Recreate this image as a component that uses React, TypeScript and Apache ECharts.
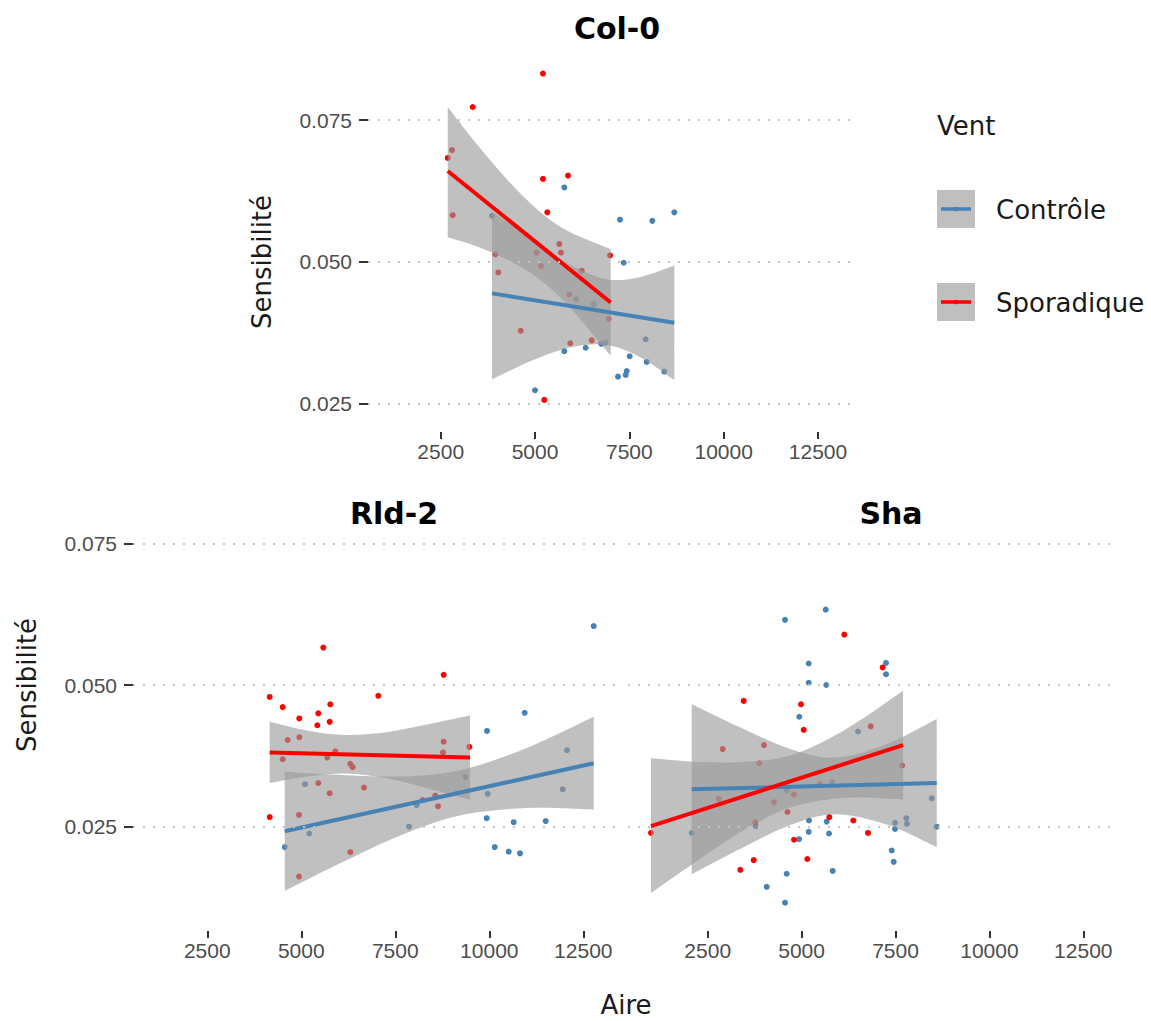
import React, { useEffect, useRef } from "react";
import * as echarts from "echarts";

// ---------- data ----------
const xTicks = [2500, 5000, 7500, 10000, 12500];
const yTicks = [0.025, 0.05, 0.075];
const groupNames = ["Contrôle", "Sporadique"];
const panelTitles = ["Col-0", "Rld-2", "Sha"];

// Col-0
const col0CtrlX = [5776, 3860, 6086, 5776, 5000, 7252, 8108, 8691, 7350, 6555, 6343, 6757, 6863, 7933, 7509, 7960, 8426, 7430, 7403, 7199];
const col0CtrlY = [0.0631, 0.0581, 0.0434, 0.0342, 0.0273, 0.0574, 0.0572, 0.0587, 0.0498, 0.0425, 0.0348, 0.0355, 0.0357, 0.0363, 0.0333, 0.0323, 0.0306, 0.0307, 0.0300, 0.0297];
const col0SporX = [5211, 3348, 2800, 2686, 2818, 5211, 5874, 5325, 5644, 5688, 5044, 5158, 3947, 4027, 4620, 5935, 5908, 5246, 6987, 6237, 6953, 6502];
const col0SporY = [0.0832, 0.0773, 0.0697, 0.0683, 0.0582, 0.0646, 0.0652, 0.0587, 0.0531, 0.0516, 0.0516, 0.0492, 0.0513, 0.0481, 0.0378, 0.0356, 0.0442, 0.0256, 0.0511, 0.0484, 0.0399, 0.0361];

// Rld-2
const rldCtrlX = [5098, 5213, 4559, 12777, 10941, 9939, 12066, 9362, 9957, 11952, 8069, 7864, 9931, 10649, 11500, 10144, 10516, 10816];
const rldCtrlY = [0.0325, 0.0238, 0.0214, 0.0604, 0.0451, 0.0419, 0.0385, 0.0338, 0.0308, 0.0316, 0.0288, 0.0250, 0.0265, 0.0258, 0.0260, 0.0214, 0.0206, 0.0203];
const rldSporX = [5585, 4160, 7048, 4505, 5771, 4947, 5452, 5426, 5755, 4638, 4947, 5904, 4505, 5691, 6303, 6367, 5452, 6668, 5755, 4939, 4160, 6303, 4939, 8787, 8787, 8769, 9468, 8564, 8636, 8229];
const rldSporY = [0.0566, 0.0479, 0.0481, 0.0461, 0.0466, 0.0441, 0.0450, 0.0429, 0.0435, 0.0403, 0.0408, 0.0383, 0.0369, 0.0372, 0.0361, 0.0355, 0.0327, 0.0319, 0.0309, 0.0271, 0.0267, 0.0205, 0.0162, 0.0518, 0.0400, 0.0381, 0.0391, 0.0305, 0.0286, 0.0297];

// Sha
const shaCtrlX = [5642, 4558, 5189, 5189, 5658, 4938, 6502, 5817, 4603, 5197, 5668, 3778, 2074, 5189, 5730, 4931, 4603, 5828, 4071, 4558, 7247, 7247, 8464, 7788, 7806, 7487, 7487, 8597, 7399, 7452];
const shaCtrlY = [0.0633, 0.0615, 0.0538, 0.0504, 0.0500, 0.0444, 0.0418, 0.0329, 0.0314, 0.0261, 0.0259, 0.0251, 0.0239, 0.0241, 0.0238, 0.0228, 0.0167, 0.0172, 0.0144, 0.0116, 0.0539, 0.0519, 0.0300, 0.0265, 0.0255, 0.0257, 0.0246, 0.0250, 0.0208, 0.0188];
const shaSporX = [6137, 3458, 4984, 5056, 6840, 2899, 3999, 3874, 2793, 4265, 4798, 5490, 4624, 3767, 5738, 6377, 6768, 990, 4798, 5152, 3725, 3368, 7159, 7681];
const shaSporY = [0.0589, 0.0472, 0.0466, 0.0421, 0.0427, 0.0387, 0.0394, 0.0362, 0.0299, 0.0293, 0.0307, 0.0325, 0.0276, 0.0258, 0.0267, 0.0261, 0.0239, 0.0239, 0.0227, 0.0193, 0.0191, 0.0174, 0.0531, 0.0358];

// fitted lines
const col0CtrlFitX = [3860, 8691];
const col0CtrlFitY = [0.0444, 0.0392];
const col0SporFitX = [2686, 7006];
const col0SporFitY = [0.0660, 0.0428];
const rldCtrlFitX = [4559, 12777];
const rldCtrlFitY = [0.0242, 0.0362];
const rldSporFitX = [4160, 9487];
const rldSporFitY = [0.0381, 0.0372];
const shaCtrlFitX = [2074, 8597];
const shaCtrlFitY = [0.0316, 0.0327];
const shaSporFitX = [990, 7700];
const shaSporFitY = [0.0251, 0.0394];

// confidence bands
const col0CtrlBandX = [3860, 4900, 5900, 6900, 7800, 8691];
const col0CtrlBandLow = [0.0292, 0.0325, 0.0348, 0.0353, 0.0331, 0.0291];
const col0CtrlBandHigh = [0.0588, 0.0541, 0.0496, 0.0469, 0.0473, 0.0493];
const col0SporBandX = [2686, 3500, 4300, 5100, 5900, 7006];
const col0SporBandLow = [0.0543, 0.0526, 0.0502, 0.0470, 0.0421, 0.0334];
const col0SporBandHigh = [0.0773, 0.0704, 0.0642, 0.0590, 0.0553, 0.0522];
const rldCtrlBandX = [4559, 6200, 7800, 9300, 11000, 12777];
const rldCtrlBandLow = [0.0137, 0.0191, 0.0239, 0.0271, 0.0283, 0.0280];
const rldCtrlBandHigh = [0.0347, 0.0341, 0.0339, 0.0351, 0.0389, 0.0444];
const rldSporBandX = [4160, 5200, 6200, 7300, 8400, 9487];
const rldSporBandLow = [0.0327, 0.0339, 0.0344, 0.0335, 0.0317, 0.0298];
const rldSporBandHigh = [0.0435, 0.0419, 0.0412, 0.0417, 0.0431, 0.0446];
const shaCtrlBandX = [2074, 3400, 4700, 5900, 7300, 8597];
const shaCtrlBandLow = [0.0166, 0.0212, 0.0253, 0.0272, 0.0253, 0.0214];
const shaCtrlBandHigh = [0.0466, 0.0424, 0.0387, 0.0372, 0.0397, 0.0440];
const shaSporBandX = [990, 2400, 3600, 4800, 6200, 7700];
const shaSporBandLow = [0.0133, 0.0198, 0.0249, 0.0286, 0.0301, 0.0298];
const shaSporBandHigh = [0.0371, 0.0364, 0.0365, 0.0378, 0.0423, 0.0490];

// ---------- styling / layout ----------
const COLORS = ["#4682b4", "#ff0000"];
const BAND_FILL = "rgba(153,153,153,0.62)";
const TEXT_FONT = "DejaVu Sans";
const TICK_FONT = "Liberation Sans";

const layout = [
  { left: 368, top: 45, width: 484, height: 387, xMin: 573, xMax: 13401, yMin: 0.01993, yMax: 0.08824, yLabels: true },
  { left: 133, top: 530, width: 485, height: 401, xMin: 524, xMax: 13423, yMin: 0.0066, yMax: 0.07735, yLabels: true },
  { left: 628, top: 530, width: 489, height: 401, xMin: 378, xMax: 13397, yMin: 0.0066, yMax: 0.07735, yLabels: false },
];

const panels = [
  {
    groups: [
      { x: col0CtrlX, y: col0CtrlY, fx: col0CtrlFitX, fy: col0CtrlFitY, bx: col0CtrlBandX, bl: col0CtrlBandLow, bh: col0CtrlBandHigh },
      { x: col0SporX, y: col0SporY, fx: col0SporFitX, fy: col0SporFitY, bx: col0SporBandX, bl: col0SporBandLow, bh: col0SporBandHigh },
    ],
  },
  {
    groups: [
      { x: rldCtrlX, y: rldCtrlY, fx: rldCtrlFitX, fy: rldCtrlFitY, bx: rldCtrlBandX, bl: rldCtrlBandLow, bh: rldCtrlBandHigh },
      { x: rldSporX, y: rldSporY, fx: rldSporFitX, fy: rldSporFitY, bx: rldSporBandX, bl: rldSporBandLow, bh: rldSporBandHigh },
    ],
  },
  {
    groups: [
      { x: shaCtrlX, y: shaCtrlY, fx: shaCtrlFitX, fy: shaCtrlFitY, bx: shaCtrlBandX, bl: shaCtrlBandLow, bh: shaCtrlBandHigh },
      { x: shaSporX, y: shaSporY, fx: shaSporFitX, fy: shaSporFitY, bx: shaSporBandX, bl: shaSporBandLow, bh: shaSporBandHigh },
    ],
  },
];

const zip = (a: number[], b: number[]) => a.map((v, i) => [v, b[i]]);

// smooth path segments through pixel points (Catmull-Rom -> cubic Bezier)
function splineSegments(pts: number[][]) {
  let d = "";
  for (let i = 0; i < pts.length - 1; i++) {
    const p0 = pts[i - 1] || pts[i];
    const p1 = pts[i];
    const p2 = pts[i + 1];
    const p3 = pts[i + 2] || pts[i + 1];
    const c1x = p1[0] + (p2[0] - p0[0]) / 6;
    const c1y = p1[1] + (p2[1] - p0[1]) / 6;
    const c2x = p2[0] - (p3[0] - p1[0]) / 6;
    const c2y = p2[1] - (p3[1] - p1[1]) / 6;
    d += ` C ${c1x} ${c1y} ${c2x} ${c2y} ${p2[0]} ${p2[1]}`;
  }
  return d;
}

function buildOption() {
  const grid: any[] = [];
  const xAxis: any[] = [];
  const yAxis: any[] = [];
  const series: any[] = [];

  layout.forEach((L, pi) => {
    grid.push({ left: L.left, top: L.top, width: L.width, height: L.height, containLabel: false, outerBoundsMode: "none" });
    xAxis.push({
      type: "value",
      gridIndex: pi,
      min: L.xMin,
      max: L.xMax,
      axisLine: { show: false },
      splitLine: { show: false },
      axisTick: { show: true, customValues: xTicks, length: 7, lineStyle: { color: "#333333", width: 2 } },
      axisLabel: {
        show: true,
        customValues: xTicks,
        formatter: (v: number) => String(v),
        color: "#4d4d4d",
        fontSize: 21,
        fontFamily: TICK_FONT,
        margin: 9,
      },
    });
    yAxis.push({
      type: "value",
      gridIndex: pi,
      min: L.yMin,
      max: L.yMax,
      axisLine: { show: false },
      splitLine: { show: false },
      axisTick: { show: L.yLabels, customValues: yTicks, length: 9, lineStyle: { color: "#333333", width: 2 } },
      axisLabel: {
        show: L.yLabels,
        customValues: yTicks,
        formatter: (v: number) => v.toFixed(3),
        color: "#4d4d4d",
        fontSize: 21,
        fontFamily: TICK_FONT,
        margin: 16,
      },
    });

    // dotted horizontal gridlines
    series.push({
      type: "line",
      xAxisIndex: pi,
      yAxisIndex: pi,
      data: [],
      z: 0,
      silent: true,
      markLine: {
        silent: true,
        precision: 5,
        symbol: ["none", "none"],
        label: { show: false },
        lineStyle: { type: [2, 8], color: "#c4c4c4", width: 2 },
        data: yTicks.map((v) => ({ yAxis: v })),
      },
    });

    const P = panels[pi];
    // points
    P.groups.forEach((g, gi) => {
      series.push({
        type: "scatter",
        name: groupNames[gi],
        xAxisIndex: pi,
        yAxisIndex: pi,
        data: zip(g.x, g.y),
        symbol: "circle",
        symbolSize: 6,
        itemStyle: { color: COLORS[gi], opacity: 1 },
        z: 1,
        silent: true,
      });
    });
    // confidence bands
    P.groups.forEach((g) => {
      series.push({
        type: "custom",
        xAxisIndex: pi,
        yAxisIndex: pi,
        data: g.bx.map((x, i) => [x, g.bl[i], g.bh[i]]),
        encode: { x: 0, y: [1, 2] },
        z: 2,
        silent: true,
        renderItem: (params: any, api: any) => {
          if (params.dataIndex !== 0) return null;
          const up = g.bx.map((x, i) => api.coord([x, g.bh[i]]));
          const lo = g.bx.map((x, i) => api.coord([x, g.bl[i]])).reverse();
          const d =
            `M ${up[0][0]} ${up[0][1]}` +
            splineSegments(up) +
            ` L ${lo[0][0]} ${lo[0][1]}` +
            splineSegments(lo) +
            " Z";
          return { type: "path", shape: { pathData: d }, style: { fill: BAND_FILL } };
        },
      });
    });
    // fitted lines
    P.groups.forEach((g, gi) => {
      series.push({
        type: "line",
        xAxisIndex: pi,
        yAxisIndex: pi,
        data: zip(g.fx, g.fy),
        symbol: "none",
        lineStyle: { color: COLORS[gi], width: 4 },
        z: 3,
        silent: true,
      });
    });
  });

  const titleStyle = (text: string) => ({
    text,
    fontFamily: TEXT_FONT,
    fontSize: 30,
    fontWeight: "bold",
    fill: "#000000",
    align: "center",
    verticalAlign: "middle",
  });
  const labelStyle = (text: string, align = "center") => ({
    text,
    fontFamily: TEXT_FONT,
    fontSize: 26,
    fill: "#1a1a1a",
    align,
    verticalAlign: "middle",
  });

  const graphic: any[] = [
    { type: "text", x: 617, y: 28, style: titleStyle(panelTitles[0]) },
    { type: "text", x: 394, y: 513, style: titleStyle(panelTitles[1]) },
    { type: "text", x: 891, y: 513, style: titleStyle(panelTitles[2]) },
    { type: "text", x: 262, y: 262, rotation: Math.PI / 2, style: labelStyle("Sensibilité") },
    { type: "text", x: 27, y: 685, rotation: Math.PI / 2, style: labelStyle("Sensibilité") },
    { type: "text", x: 626, y: 1005, style: labelStyle("Aire") },
    { type: "text", x: 937, y: 126, style: labelStyle("Vent", "left") },
  ];
  const keyTops = [190, 283];
  groupNames.forEach((name, gi) => {
    const t = keyTops[gi];
    graphic.push({ type: "rect", shape: { x: 937, y: t, width: 38, height: 38 }, style: { fill: "#bfbfbf" } });
    graphic.push({
      type: "line",
      shape: { x1: 941, y1: t + 19, x2: 971, y2: t + 19 },
      style: { stroke: COLORS[gi], lineWidth: 3.5 },
    });
    graphic.push({ type: "circle", shape: { cx: 956, cy: t + 19, r: 2.3 }, style: { fill: COLORS[gi] } });
    graphic.push({ type: "text", x: 996, y: t + 20, style: labelStyle(name, "left") });
  });

  return {
    animation: false,
    backgroundColor: "#ffffff",
    grid,
    xAxis,
    yAxis,
    series,
    graphic,
  };
}

export default function App() {
  const ref = useRef<HTMLDivElement>(null);
  useEffect(() => {
    if (!ref.current) return;
    const chart = echarts.init(ref.current, undefined, { renderer: "svg" });
    chart.setOption(buildOption() as any);
    return () => chart.dispose();
  }, []);
  return <div ref={ref} style={{ position: "fixed", left: 0, top: 0, width: 1151, height: 1021, background: "#fff" }} />;
}
